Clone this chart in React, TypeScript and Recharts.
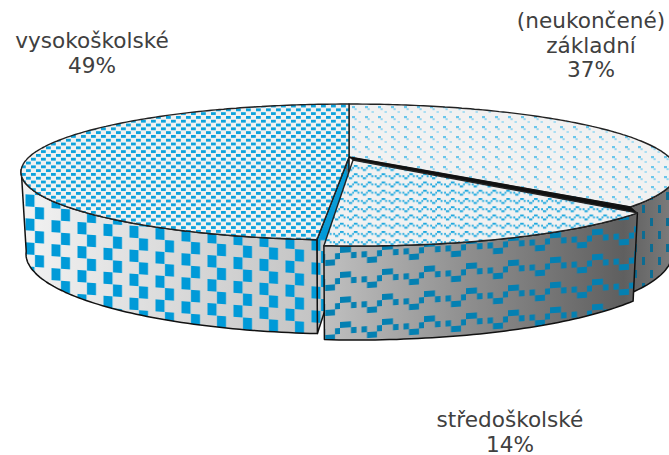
import { PieChart, Pie } from 'recharts';

const categories = ['(neukončené) základní', 'vysokoškolské', 'středoškolské'];
const shares = [36.9, 48.8, 14.3];

const pieData = categories.map((name, i) => ({ name, value: shares[i] }));

const WIDTH = 669;
const HEIGHT = 455;
const CX = 349;
const CY = 172;
const RX = 328;
const RY = 68;
const BOTTOM_CY = 254;
const BOTTOM_RX = 323;
const BOTTOM_RY = 80;
const PERSPECTIVE = 0.77;
const APEX_SHIFT = 0.22;
const EXPLODE_X = 7;
const EXPLODE_Y = 6;
const START = 90 - shares[0] * 3.6;

const labelAnchors: Record<string, [number, number]> = {
  '(neukončené) základní': [591, 28],
  vysokoškolské: [92, 48],
  středoškolské: [510, 427],
};

const RAD = Math.PI / 180;

// true pie angle -> angle round the drawn ellipse (near side gets stretched)
function squash(angle: number) {
  const t = ((90 - angle) * RAD) / 2;
  return 2 * Math.atan2(PERSPECTIVE * Math.sin(t), Math.cos(t));
}

function rimTop(angle: number, ox: number, oy: number) {
  const p = squash(angle);
  return [CX + ox + RX * Math.sin(p), CY + oy - RY * Math.cos(p)];
}

function rimBottom(angle: number, ox: number, oy: number) {
  const p = squash(angle);
  return [CX + ox + BOTTOM_RX * Math.sin(p), BOTTOM_CY + oy - BOTTOM_RY * Math.cos(p)];
}

function toPath(points: number[][], close = true) {
  return points.map((p, i) => `${i ? 'L' : 'M'}${p[0].toFixed(1)} ${p[1].toFixed(1)}`).join(' ') + (close ? ' Z' : '');
}

function angles(a: number, b: number) {
  const n = Math.max(8, Math.ceil(Math.abs(b - a)));
  return Array.from({ length: n + 1 }, (_, i) => a + ((b - a) * i) / n);
}

const topFills = ['url(#dotsTop)', 'url(#checkTop)', 'url(#waveTop)'];
const sideFills = ['url(#dotsSide)', 'url(#checkSide)', 'url(#waveSide)'];

function Slice3D(props: any) {
  const { startAngle, endAngle } = props;
  const i = categories.indexOf(props.name ?? props.payload?.name);
  const ox = i === 2 ? EXPLODE_X : 0;
  const oy = i === 2 ? EXPLODE_Y : 0;
  const steps = angles(startAngle, endAngle);

  const topArc = steps.map((a) => rimTop(a, ox, oy));
  const lightApex = [CX, CY - RY * APEX_SHIFT];
  // the exploded slice's tip stays close to the others
  const apexTop = i === 2 ? [CX + 4, CY - RY * APEX_SHIFT + 3] : lightApex;
  const apexBottom = [CX, BOTTOM_CY - BOTTOM_RY * APEX_SHIFT];
  const top = toPath([apexTop, ...topArc]);

  // only the near half of the rim shows a wall
  const near = steps.filter((a) => Math.cos(squash(a)) < 0.05);
  const wall = near.length
    ? toPath([...near.map((a) => rimTop(a, ox, oy)), ...[...near].reverse().map((a) => rimBottom(a, ox, oy))])
    : '';

  const cut =
    i === 1
      ? toPath([apexTop, rimTop(endAngle, ox, oy), rimBottom(endAngle, ox, oy), apexBottom])
      : '';

  // dark seam between the exploded slice and the one behind it
  const seam =
    i === 2 ? toPath([lightApex, rimTop(endAngle, 0, 0), rimTop(endAngle, ox, oy), apexTop]) : '';

  return (
    <g>
      {seam && <path d={seam} fill="#111" stroke="#111" strokeWidth={0.8} />}
      {cut && <path d={cut} fill="url(#cutShade)" stroke="none" />}
      {cut && <path d={cut} fill="url(#checkSide)" stroke="none" />}
      {cut && <path d={cut} fill="none" stroke="#111" strokeWidth={1.5} strokeLinejoin="round" />}
      {wall && <path d={wall} fill="url(#wallShade)" stroke="none" />}
      {wall && <path d={wall} fill={sideFills[i]} stroke="none" />}
      {wall && <path d={wall} fill="none" stroke="#111" strokeWidth={1.5} strokeLinejoin="round" />}
      <path d={top} fill="#f1f1f1" stroke="none" />
      <path d={top} fill={topFills[i]} stroke="none" />
      <path d={top} fill="none" stroke="#222" strokeWidth={1.4} strokeLinejoin="round" />
    </g>
  );
}

function SliceLabel(props: any) {
  const lines = props.name.split(' ');
  const [x, y] = labelAnchors[props.name];
  return (
    <text
      x={x}
      y={y}
      textAnchor="middle"
      fill="#404040"
      fontSize={21.6}
      fontFamily="'DejaVu Sans', sans-serif"
    >
      {lines.map((line: string, n: number) => (
        <tspan key={line} x={x} dy={n ? 24.5 : 0}>
          {line}
        </tspan>
      ))}
      <tspan x={x} dy={24.5}>
        {Math.round(props.percent * 100)}%
      </tspan>
    </text>
  );
}

export default function App() {
  return (
    <div style={{ position: 'absolute', left: 0, top: 0, width: WIDTH, height: HEIGHT, overflow: 'hidden', background: '#fff' }}>
      <PieChart width={WIDTH} height={HEIGHT} margin={{ top: 0, right: 0, bottom: 0, left: 0 }}>
        <defs>
          <linearGradient id="wallShade" gradientUnits="userSpaceOnUse" x1={21} y1={0} x2={669} y2={0}>
            <stop offset="0" stopColor="#f2f2f2" />
            <stop offset="0.45" stopColor="#c4c4c4" />
            <stop offset="0.7" stopColor="#8c8c8c" />
            <stop offset="0.93" stopColor="#5f5f5f" />
            <stop offset="1" stopColor="#7a7a7a" />
          </linearGradient>
          <linearGradient id="cutShade" gradientUnits="userSpaceOnUse" x1={0} y1={157} x2={0} y2={340}>
            <stop offset="0" stopColor="#555" />
            <stop offset="0.07" stopColor="#666" />
            <stop offset="0.1" stopColor="#0a9bd6" />
            <stop offset="0.45" stopColor="#0a9bd6" />
            <stop offset="0.46" stopColor="#c8c8c8" />
            <stop offset="1" stopColor="#c8c8c8" />
          </linearGradient>

          <pattern id="checkSide" patternUnits="userSpaceOnUse" width={26} height={24} patternTransform="translate(207.5 243) skewY(4)">
            <rect x={0} y={12} width={9} height={12} fill="#009ad8" />
            <rect x={9.5} y={0} width={9} height={12} fill="#009ad8" />
          </pattern>
          <pattern id="checkTop" patternUnits="userSpaceOnUse" width={10} height={7.6} patternTransform="translate(1 2)">
            <rect x={0} y={3.8} width={4.8} height={2.8} fill="#0aa2dc" />
            <rect x={5} y={0} width={4.8} height={2.8} fill="#0aa2dc" />
          </pattern>

          <pattern id="waveSide" patternUnits="userSpaceOnUse" width={42} height={25} patternTransform="translate(340 247) skewY(-4)">
            <rect x={0} y={0} width={11} height={6} fill="#0480b2" />
            <rect x={11} y={6} width={5.5} height={6} fill="#0480b2" />
            <rect x={21.5} y={6} width={5.5} height={6} fill="#0480b2" />
            <rect x={27} y={12} width={10} height={6} fill="#0480b2" />
            <rect x={37} y={6} width={5} height={6} fill="#0480b2" />
          </pattern>
          <pattern id="waveTop" patternUnits="userSpaceOnUse" width={42} height={25} patternTransform="translate(340 165) scale(0.33 0.33)">
            <rect x={0} y={0} width={11} height={6} fill="#1fa9df" />
            <rect x={11} y={6} width={5.5} height={6} fill="#1fa9df" />
            <rect x={21.5} y={6} width={5.5} height={6} fill="#1fa9df" />
            <rect x={27} y={12} width={10} height={6} fill="#1fa9df" />
            <rect x={37} y={6} width={5} height={6} fill="#1fa9df" />
          </pattern>

          <pattern id="dotsSide" patternUnits="userSpaceOnUse" width={16} height={26} patternTransform="translate(640 205)">
            <rect x={2} y={0} width={3} height={8} fill="#0d6c92" />
            <rect x={10} y={13} width={3} height={8} fill="#0d6c92" />
          </pattern>
          <pattern id="dotsTop" patternUnits="userSpaceOnUse" width={13} height={10} patternTransform="translate(350 105)">
            <rect x={2} y={1} width={3} height={2.2} fill="#6cc6ea" />
            <rect x={4.5} y={3.2} width={2.2} height={2} fill="#94d5ef" />
            <rect x={8.5} y={6} width={2.4} height={2} fill="#a8ddf2" />
          </pattern>
        </defs>
        <Pie
          data={pieData}
          dataKey="value"
          nameKey="name"
          cx={CX}
          cy={CY}
          innerRadius={0}
          outerRadius={RX}
          startAngle={START}
          endAngle={START + 360}
          shape={Slice3D}
          label={SliceLabel}
          labelLine={false}
          rootTabIndex={-1}
          isAnimationActive={false}
        />
      </PieChart>
    </div>
  );
}
